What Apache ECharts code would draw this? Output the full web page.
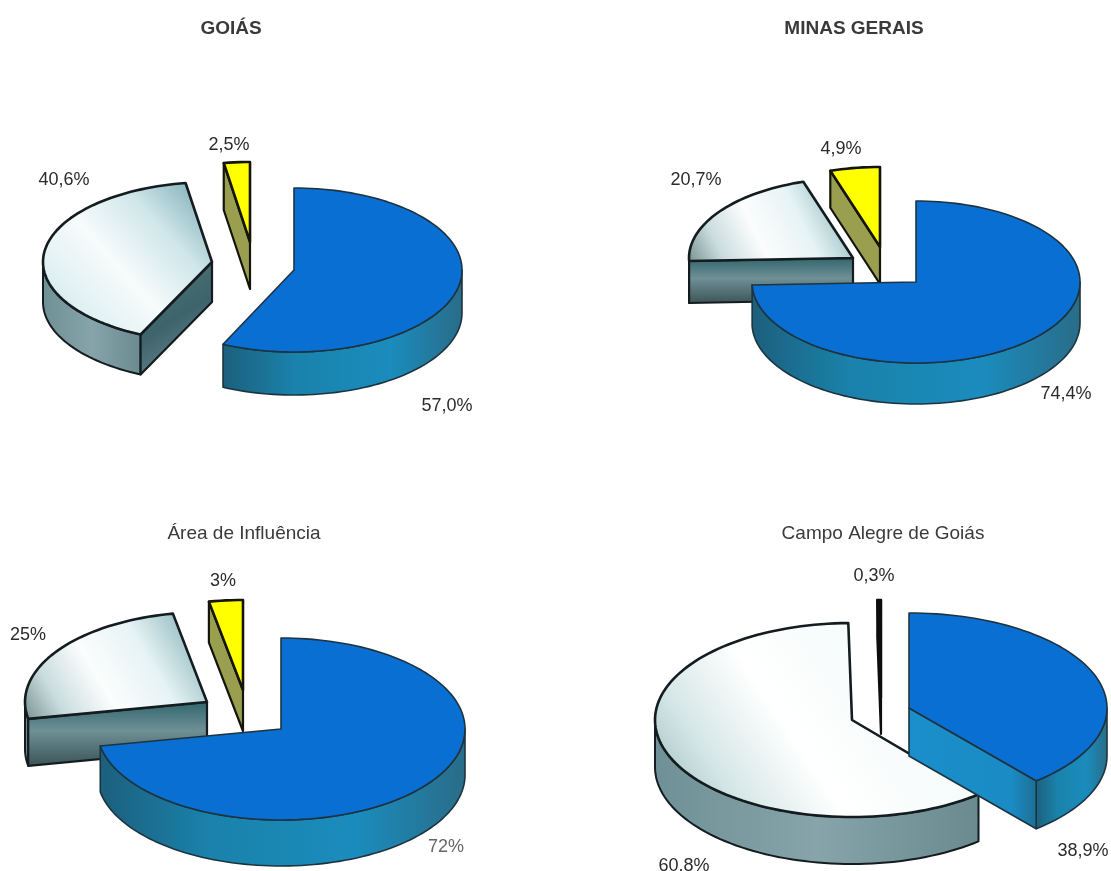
<!DOCTYPE html>
<html><head><meta charset="utf-8">
<style>html,body{margin:0;padding:0;background:#fff}#c{width:1111px;height:871px}</style>
<script src="https://cdn.jsdelivr.net/npm/echarts@6/dist/echarts.min.js"></script>
</head><body><div id="c"></div>
<script>
// ---- data ----
var chartTitles = ['GOIÁS', 'MINAS GERAIS', 'Área de Influência', 'Campo Alegre de Goiás'];
var goiasValues = [57.0, 40.6, 2.5];
var goiasLabels = ['57,0%', '40,6%', '2,5%'];
var minasValues = [74.4, 20.7, 4.9];
var minasLabels = ['74,4%', '20,7%', '4,9%'];
var areaValues = [72, 25, 3];
var areaLabels = ['72%', '25%', '3%'];
var campoValues = [38.9, 60.8, 0.3];
var campoLabels = ['38,9%', '60,8%', '0,3%'];

// ---- layout and styling ----
var FONT = '"Liberation Sans", Arial, sans-serif';
var layouts = [
  { c: [[294,270],[212,262],[250,242]], r: [[168,82],[169,80],[168,80]], d: [43,40,47],
    lab: [[447,406],[64,180],[229,145]], grad: [1,0,0,1] },
  { c: [[916,282],[853,258],[880,247]], r: [[164,81],[164,80],[164,80]], d: [41,42,37],
    lab: [[1066,394],[696,180],[841,149]], grad: [1,0,0,1] },
  { c: [[281,729],[207,702],[243,690]], r: [[184,91],[182,90],[182,90]], d: [46,47,41],
    lab: [[446,847],[28,635],[223,581]], grad: [1,0,0,1] },
  { c: [[909,708],[852,720],[881,697]], r: [[198,95],[197,97],[196,97]], d: [48,47,37],
    lab: [[1083,851],[684,866],[874,576]], grad: [1,0,0.1,1] }
];
var drawOrder = [2, 0, 1]; // z-rank of blue / grey / yellow slices

function lin(x, y, x2, y2, stops) {
  return { type: 'linear', x: x, y: y, x2: x2, y2: y2, global: false,
    colorStops: stops.map(function (s) { return { offset: s[0], color: s[1] }; }) };
}
function sliceStyle(idx, chart) {
  var g = layouts[chart].grad;
  if (idx === 0) return {
    top: '#0a6fd2',
    side: lin(0,0,1,0,[[0,'#1c5f7c'],[0.3,'#1a82ab'],[0.7,'#1a8cbd'],[1,'#2a6c88']]),
    cut: lin(0,0,1,0,[[0,'#1a8fcb'],[0.8,'#1a8bc4'],[1,'#1c6f94']]),
    stroke: '#1d3440', lw: 1.6
  };
  if (idx === 1) {
    var topFill = chart === 3
      ? lin(g[0],g[1],g[2],g[3],[[0,'#a9cdd0'],[0.25,'#f4fafa'],[0.62,'#ffffff'],[0.85,'#d5e6e6'],[1,'#a9c6c8']])
      : chart === 0
      ? lin(g[0],g[1],g[2],g[3],[[0,'#6fa3ac'],[0.3,'#cfe6ea'],[0.55,'#f7fbfb'],[0.8,'#dff0f2'],[1,'#a8cdd4']])
      : lin(g[0],g[1],g[2],g[3],[[0,'#6fa3ab'],[0.35,'#e6f3f4'],[0.6,'#fcfdfd'],[0.82,'#c9dcdd'],[1,'#76908f']]);
    var darkFace = chart === 1 || chart === 2;
    return {
      top: topFill,
      side: darkFace ? '#6f8d92' : lin(0,0,1,0,[[0,'#6f9096'],[0.5,'#86a4a9'],[1,'#6a8a90']]),
      cut: darkFace
        ? lin(0,0,0,1,[[0,'#2f646c'],[0.45,'#6f9095'],[1,'#3a5356']])
        : lin(0,0,1,1,[[0,'#52777e'],[0.5,'#3d636b'],[1,'#7a9599']]),
      stroke: '#141c20', lw: 2.6
    };
  }
  if (chart === 3) return { top: '#0d0d0d', side: '#0d0d0d', cut: '#0d0d0d', stroke: '#0d0d0d', lw: 2.5 };
  return { top: '#ffff00', side: '#9a9f4f', cut: '#9a9f4f', stroke: '#14140c', lw: 2.6 };
}

function makeSeries(values, labels, chart) {
  var total = values.reduce(function (a, b) { return a + b; }, 0);
  var L = layouts[chart];
  return {
    type: 'custom',
    coordinateSystem: 'none',
    silent: true,
    animation: false,
    data: values.map(function (v, i) { return { value: [v], name: labels[i] }; }),
    renderItem: function (params, api) {
      var i = params.dataIndex;
      var before = 0;
      for (var k = 0; k < i; k++) before += values[k];
      var a0 = before / total * 360;
      var a1 = (before + api.value(0)) / total * 360;
      var cx = L.c[i][0], cy = L.c[i][1], rx = L.r[i][0], ry = L.r[i][1], d = L.d[i];
      var st = sliceStyle(i, chart);
      var zb = drawOrder[i] * 4 + 1;
      function pt(t, dy) {
        var r = t * Math.PI / 180;
        return [cx + rx * Math.sin(r), cy - ry * Math.cos(r) + (dy || 0)];
      }
      function arc(s, e, dy) {
        var out = [], n = Math.max(2, Math.ceil(Math.abs(e - s) / 2));
        for (var j = 0; j <= n; j++) out.push(pt(s + (e - s) * j / n, dy));
        return out;
      }
      var children = [];
      function poly(points, fill, z, lw) {
        children.push({ type: 'polygon', z2: z, shape: { points: points },
          style: { fill: fill, stroke: st.stroke, lineWidth: lw || st.lw, lineJoin: 'round' } });
      }
      // outer wall: only the near half of the rim shows
      var s = Math.max(a0, 90), e = Math.min(a1, 270);
      if (e > s) poly(arc(s, e, 0).concat(arc(e, s, d)), st.side, zb, Math.min(st.lw, 2));
      // cut faces turned towards the viewer
      function face(t, z) {
        var p = pt(t, 0), q = pt(t, d);
        poly([[cx, cy], p, q, [cx, cy + d]], st.cut, z, Math.min(st.lw, 2.2));
      }
      if (a0 > 180 && a0 < 360) face(a0, zb + 1);
      if (a1 > 0 && a1 < 180) face(a1, zb + 1);
      // top surface
      poly([[cx, cy]].concat(arc(a0, a1, 0)), st.top, zb + 2);
      // value label
      children.push({ type: 'text', z2: 100, style: {
        text: labels[i], x: L.lab[i][0], y: L.lab[i][1], align: 'center', verticalAlign: 'middle',
        fontFamily: FONT, fontSize: 18, fill: (chart === 2 && i === 0) ? '#666' : '#2b2b2b'
      } });
      return { type: 'group', children: children };
    }
  };
}

var titlePos = [[231,29,true],[854,29,true],[244,534,false],[883,534,false]];
var option = {
  backgroundColor: '#ffffff',
  animation: false,
  title: chartTitles.map(function (t, i) {
    return { text: t, left: titlePos[i][0], top: titlePos[i][1], textAlign: 'center', textVerticalAlign: 'middle',
      padding: 0,
      textStyle: { fontFamily: FONT, fontSize: 19,
        fontWeight: titlePos[i][2] ? 'bold' : 'normal', color: '#3a3a3a' } };
  }),
  series: [
    makeSeries(goiasValues, goiasLabels, 0),
    makeSeries(minasValues, minasLabels, 1),
    makeSeries(areaValues, areaLabels, 2),
    makeSeries(campoValues, campoLabels, 3)
  ]
};
echarts.init(document.getElementById('c'), null, { renderer: 'canvas' }).setOption(option);
</script></body></html>
